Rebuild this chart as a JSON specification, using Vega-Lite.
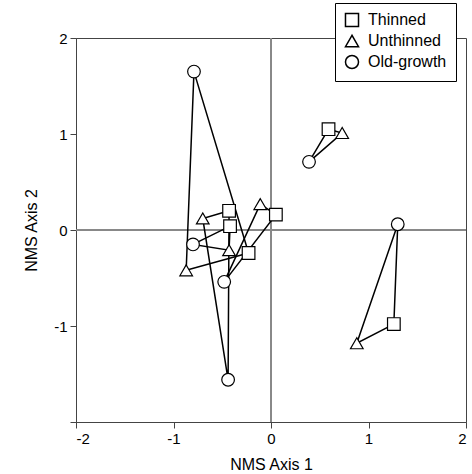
{
  "$schema": "https://vega.github.io/schema/vega-lite/v6.json",
  "width": 390,
  "height": 384,
  "autosize": "none",
  "padding": {"left": 76, "top": 38, "right": 6, "bottom": 52},
  "background": "white",
  "config": {
    "font": "Liberation Sans",
    "view": {"stroke": "#444", "strokeWidth": 1},
    "axis": {"grid": false, "domainColor": "#444", "tickColor": "#444", "labelColor": "black", "titleColor": "black", "labelFontSize": 15, "titleFontSize": 16, "titleFontWeight": "normal", "tickSize": 6}
  },
  "data": {"values": [
    {"site": 1, "treatment": "Thinned", "v": 1, "x": 0.59, "y": 1.05},
    {"site": 1, "treatment": "Unthinned", "v": 2, "x": 0.73, "y": 1.01},
    {"site": 1, "treatment": "Old-growth", "v": 3, "x": 0.39, "y": 0.71},
    {"site": 2, "treatment": "Thinned", "v": 1, "x": 1.26, "y": -0.98},
    {"site": 2, "treatment": "Unthinned", "v": 2, "x": 0.88, "y": -1.18},
    {"site": 2, "treatment": "Old-growth", "v": 3, "x": 1.30, "y": 0.06},
    {"site": 3, "treatment": "Thinned", "v": 1, "x": -0.23, "y": -0.24},
    {"site": 3, "treatment": "Unthinned", "v": 2, "x": -0.87, "y": -0.42},
    {"site": 3, "treatment": "Old-growth", "v": 3, "x": -0.79, "y": 1.65},
    {"site": 4, "treatment": "Thinned", "v": 1, "x": -0.43, "y": 0.20},
    {"site": 4, "treatment": "Unthinned", "v": 2, "x": -0.70, "y": 0.12},
    {"site": 4, "treatment": "Old-growth", "v": 3, "x": -0.44, "y": -1.56},
    {"site": 5, "treatment": "Thinned", "v": 1, "x": -0.42, "y": 0.04},
    {"site": 5, "treatment": "Unthinned", "v": 2, "x": -0.43, "y": -0.21},
    {"site": 5, "treatment": "Old-growth", "v": 3, "x": -0.80, "y": -0.15},
    {"site": 6, "treatment": "Thinned", "v": 1, "x": 0.05, "y": 0.16},
    {"site": 6, "treatment": "Unthinned", "v": 2, "x": -0.11, "y": 0.27},
    {"site": 6, "treatment": "Old-growth", "v": 3, "x": -0.48, "y": -0.54}
  ]},
  "encoding": {
    "x": {"field": "x", "type": "quantitative", "scale": {"domain": [-2, 2], "nice": false}, "axis": {"title": "NMS Axis 1", "values": [-2, -1, 0, 1, 2], "labelPadding": 3, "titlePadding": 10, "labelExpr": "toString(datum.value)"}},
    "y": {"field": "y", "type": "quantitative", "scale": {"domain": [-2, 2], "nice": false}, "axis": {"title": "NMS Axis 2", "values": [-2, -1, 0, 1, 2], "labelPadding": 3, "titlePadding": 14, "labelExpr": "datum.value == -2 ? '' : toString(datum.value)"}}
  },
  "layer": [
    {"mark": {"type": "rule", "color": "#888", "strokeWidth": 1}, "encoding": {"x": {"datum": 0}, "y": null}},
    {"mark": {"type": "rule", "color": "#888", "strokeWidth": 1}, "encoding": {"y": {"datum": 0}, "x": null}},
    {"mark": {"type": "line", "interpolate": "linear-closed", "color": "black", "strokeWidth": 1.5}, "encoding": {"detail": {"field": "site"}, "order": {"field": "v"}}},
    {"mark": {"type": "point", "filled": false, "fill": "white", "fillOpacity": 1, "stroke": "black", "strokeWidth": 1.2, "opacity": 1, "size": 160},
     "encoding": {
       "shape": {"field": "treatment", "type": "nominal", "sort": ["Thinned", "Unthinned", "Old-growth"], "scale": {"domain": ["Thinned", "Unthinned", "Old-growth"], "range": ["square", "triangle-up", "circle"]},
         "legend": {"title": null, "orient": "none", "legendX": 259, "legendY": -35, "strokeColor": "black", "fillColor": "white", "padding": 9, "labelFontSize": 16, "labelColor": "black", "symbolSize": 170, "rowPadding": 2, "labelOffset": 8,
           "encode": {"symbols": {"update": {"stroke": {"value": "black"}, "fill": {"value": "white"}, "strokeWidth": {"value": 1.2}, "opacity": {"value": 1}}}}}}
     }}
  ]
}
